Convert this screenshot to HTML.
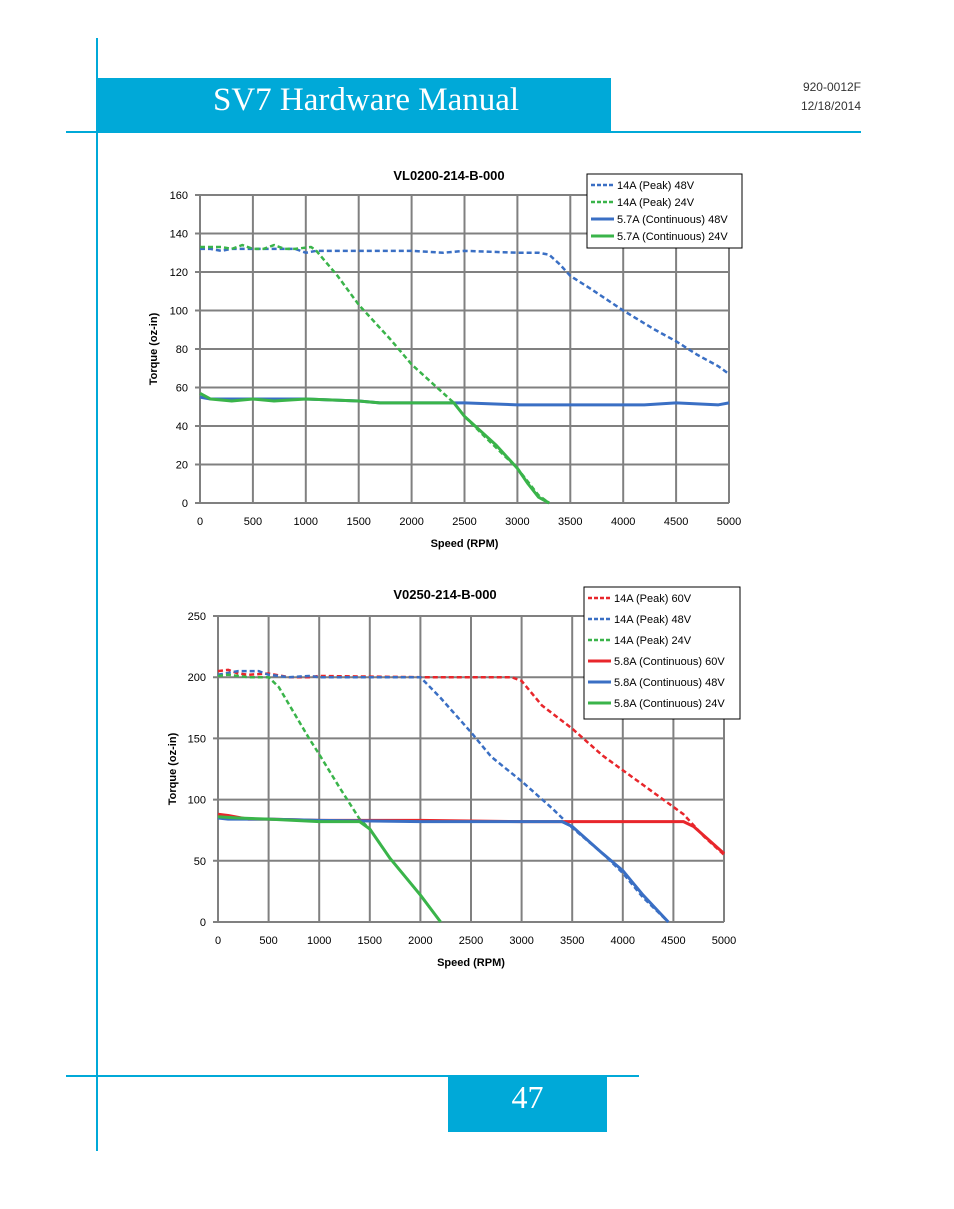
<!DOCTYPE html>
<html><head><meta charset="utf-8"><style>
body{margin:0;background:#fff;width:954px;height:1209px;position:relative;overflow:hidden;font-family:"Liberation Sans",sans-serif}
.a{position:absolute}
</style></head><body>
<div class="a" style="left:96px;top:38px;width:2px;height:1113px;background:#00a9d8"></div>
<div class="a" style="left:97px;top:78px;width:514px;height:55px;background:#00a9d8"></div>
<div class="a" style="left:213px;top:80px;color:#fff;font-family:'Liberation Serif',serif;font-size:33px;line-height:40px">SV7 Hardware Manual</div>
<div class="a" style="left:66px;top:131px;width:795px;height:2px;background:#00a9d8"></div>
<div class="a" style="left:760px;top:78px;width:101px;text-align:right;font-size:12px;line-height:19px;color:#333">920-0012F<br>12/18/2014</div>
<div class="a" style="left:66px;top:1075px;width:573px;height:2px;background:#00a9d8"></div>
<div class="a" style="left:448px;top:1077px;width:159px;height:55px;background:#00a9d8;color:#fff;font-family:'Liberation Serif',serif;font-size:32px;text-align:center;line-height:40px">47</div>
<svg class="a" style="left:0;top:0" width="954" height="1209" id="svg"></svg>
<script>
const c1Speeds48=[0,100,200,300,400,500,600,700,800,900,1000,1100,1500,2000,2300,2500,3000,3200,3300,3400,3500,3700,4000,4300,4500,4700,4900,5000];
const c1Peak48=[132,132,131,132,132,132,132,132,132,132,130,131,131,131,130,131,130,130,129,124,118,111,100,90,84,77,71,67];
const c1Speeds24=[0,200,300,400,500,600,700,800,900,1050,1100,1300,1500,1800,2000,2200,2400,2500,2700,3000,3200,3300];
const c1Peak24=[133,133,132,134,132,132,134,132,132,133,131,118,103,85,72,62,52,45,34,18,4,0];
const c1ContSpeeds48=[0,100,300,500,700,1000,1500,1700,2000,2500,3000,3500,3700,4000,4200,4500,4900,5000];
const c1Cont48=[55,54,54,54,54,54,53,52,52,52,51,51,51,51,51,52,51,52];
const c1ContSpeeds24=[0,100,300,500,700,1000,1500,1700,2000,2200,2400,2500,2600,2800,3000,3100,3200,3300];
const c1Cont24=[57,54,53,54,53,54,53,52,52,52,52,45,40,30,18,10,3,0];
const c2Speeds60=[0,100,200,300,500,700,900,1000,2000,2500,2900,3000,3200,3500,3800,4200,4600,4800,5000];
const c2Peak60=[205,206,203,202,203,200,200,201,200,200,200,197,177,158,136,112,88,70,55];
const c2Speeds48=[0,200,400,500,700,900,1000,2000,2200,2500,2700,3000,3300,3500,3800,4000,4200,4450];
const c2Peak48=[202,205,205,202,200,201,200,200,183,155,135,115,93,77,56,40,20,0];
const c2Speeds24=[0,100,300,500,600,700,900,1000,1200,1400,1500,1700,2000,2200];
const c2Peak24=[201,202,200,200,192,178,150,137,110,84,76,52,22,0];
const c2ContSpeeds60=[0,100,300,500,1000,2000,3000,3500,4000,4500,4600,4700,5000];
const c2Cont60=[88,87,84,84,83,83,82,82,82,82,82,78,56];
const c2ContSpeeds48=[0,100,500,1000,2000,3000,3400,3500,3800,4000,4200,4450];
const c2Cont48=[85,84,84,83,82,82,82,78,56,42,22,0];
const c2ContSpeeds24=[0,200,500,1000,1200,1400,1500,1700,2000,2200];
const c2Cont24=[86,85,84,82,82,82,76,52,22,0];
const NS='http://www.w3.org/2000/svg',svg=document.getElementById('svg');
function el(t,a,p){const e=document.createElementNS(NS,t);for(const k in a)e.setAttribute(k,a[k]);(p||svg).appendChild(e);return e;}
function chart(o){
 const g=el('g',{});
 
 
 const X=v=>o.x0+(o.x1-o.x0)*v/5000, Y=v=>o.y0-(o.y0-o.y1)*v/o.ymax;
 for(let s=0;s<=5000;s+=500){const l=el('line',{x1:X(s),x2:X(s),y1:o.y1,y2:o.y0,stroke:'#808080','stroke-width':2},g);
 
 const t=el('text',{x:X(s),y:o.y0+22,'text-anchor':'middle','font-size':11,fill:'#000'},g);t.textContent=s;
 }
 for(let v=0;v<=o.ymax;v+=o.ystep){const l=el('line',{x1:o.x0-5,x2:o.x1,y1:Y(v),y2:Y(v),stroke:'#808080','stroke-width':2},g);
 
 const t=el('text',{x:o.x0-12,y:Y(v)+4,'text-anchor':'end','font-size':11,fill:'#000'},g);t.textContent=v;
 }
 const tt=el('text',{x:o.tx,y:o.ty,'text-anchor':'middle','font-size':13,'font-weight':'bold'},g);tt.textContent=o.title;
 
 const xt=el('text',{x:(o.x0+o.x1)/2,y:o.y0+44,'text-anchor':'middle','font-size':11,'font-weight':'bold'},g);xt.textContent='Speed (RPM)';
 
 const yt=el('text',{x:0,y:0,transform:`translate(${o.yx},${(o.y0+o.y1)/2}) rotate(-90)`,'text-anchor':'middle','font-size':11,'font-weight':'bold'},g);yt.textContent='Torque (oz-in)';
 
 o.series.forEach(s=>{const p=el('polyline',{points:s.x.map((v,i)=>X(v)+','+Y(s.y[i])).join(' '),fill:'none',stroke:s.c,'stroke-width':s.d?2.5:3,'stroke-dasharray':s.d?'5,3':'none','stroke-linejoin':'round'},g);
 });
 const lb=el('rect',{x:o.lx,y:o.ly,width:o.lw,height:o.series.length*o.lh+6,fill:'#fff',stroke:'#000','stroke-width':1},g);
 
 o.order.forEach((k,i)=>{const s=o.series[k];const yy=o.ly+11+i*o.lh;
 el('line',{x1:o.lx+4,x2:o.lx+27,y1:yy,y2:yy,stroke:s.c,'stroke-width':s.d?2.5:3,'stroke-dasharray':s.d?'4,2':'none'},g);
 const t=el('text',{x:o.lx+30,y:yy+4,'font-size':11},g);t.textContent=s.l;
 });
}
const B='#3a6fc4',G='#3ab44a',R='#e8262b';
chart({name:'chart-vl0200',title:'VL0200-214-B-000',tx:449,ty:180,x0:200,x1:729,y0:503,y1:195,ymax:160,ystep:20,yx:157,
 lx:587,ly:174,lw:155,lh:17,order:[0,1,2,3],
 series:[{x:c1Speeds48,y:c1Peak48,c:B,d:1,l:'14A (Peak) 48V'},{x:c1Speeds24,y:c1Peak24,c:G,d:1,l:'14A (Peak) 24V'},
 {x:c1ContSpeeds48,y:c1Cont48,c:B,d:0,l:'5.7A (Continuous) 48V'},{x:c1ContSpeeds24,y:c1Cont24,c:G,d:0,l:'5.7A (Continuous) 24V'}]});
chart({name:'chart-v0250',title:'V0250-214-B-000',tx:445,ty:599,x0:218,x1:724,y0:922,y1:616,ymax:250,ystep:50,yx:176,
 lx:584,ly:587,lw:156,lh:21,order:[0,1,2,3,4,5],
 series:[{x:c2Speeds60,y:c2Peak60,c:R,d:1,l:'14A (Peak) 60V'},{x:c2Speeds48,y:c2Peak48,c:B,d:1,l:'14A (Peak) 48V'},
 {x:c2Speeds24,y:c2Peak24,c:G,d:1,l:'14A (Peak) 24V'},{x:c2ContSpeeds60,y:c2Cont60,c:R,d:0,l:'5.8A (Continuous) 60V'},
 {x:c2ContSpeeds48,y:c2Cont48,c:B,d:0,l:'5.8A (Continuous) 48V'},{x:c2ContSpeeds24,y:c2Cont24,c:G,d:0,l:'5.8A (Continuous) 24V'}]});
</script>
</body></html>
